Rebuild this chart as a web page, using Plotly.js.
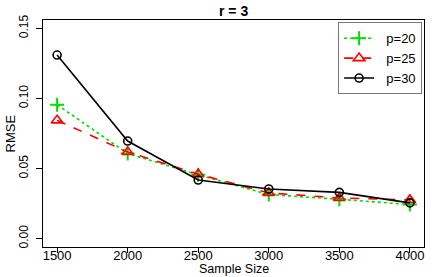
<!DOCTYPE html>
<html><head><meta charset="utf-8">
<script src="https://cdn.plot.ly/plotly-3.0.1.min.js"></script>
<style>html,body{margin:0;padding:0;background:#fff}#chart{width:436px;height:277px}</style>
</head><body><div id="chart"></div>
<script>
const sampleSize = [1500, 2000, 2500, 3000, 3500, 4000];
const rmseP20 = [0.0955, 0.0607, 0.0455, 0.0314, 0.0281, 0.0243];
const rmseP25 = [0.0844, 0.0618, 0.0460, 0.0326, 0.0290, 0.0276];
const rmseP30 = [0.1310, 0.0696, 0.0418, 0.0354, 0.0330, 0.0255];
const seriesNames = ['p=20', 'p=25', 'p=30'];
const yTicks = [0.00, 0.05, 0.10, 0.15];
const yTickText = ['0.00', '0.05', '0.10', '0.15'];

const pad = '\u00a0\u00a0';
const traces = [
  {x: sampleSize, y: rmseP20, name: pad + seriesNames[0], mode: 'lines+markers',
   line: {color: '#00dd00', width: 1.6, dash: 'dot'},
   marker: {symbol: 'cross-thin-open', size: 10, color: '#00dd00', line: {color: '#00dd00', width: 2}}},
  {x: sampleSize, y: rmseP25, name: pad + seriesNames[1], mode: 'lines+markers',
   line: {color: '#ff0000', width: 1.6, dash: 'dash'},
   marker: {symbol: 'triangle-up-open', size: 10, color: '#ff0000', line: {color: '#ff0000', width: 1.6}}},
  {x: sampleSize, y: rmseP30, name: pad + seriesNames[2], mode: 'lines+markers',
   line: {color: '#000000', width: 1.6},
   marker: {symbol: 'circle-open', size: 8, color: '#000000', line: {color: '#000000', width: 1.6}}}
];

const layout = {
  width: 436, height: 277,
  margin: {l: 43, r: 12, t: 20, b: 30},
  paper_bgcolor: '#fff', plot_bgcolor: '#fff',
  font: {family: 'Liberation Sans, Arial, sans-serif', color: '#000'},
  showlegend: true,
  legend: {x: 0.995, xanchor: 'right', y: 0.99, yanchor: 'top',
    bgcolor: '#fff', bordercolor: '#777', borderwidth: 1,
    font: {size: 13, color: '#000'}, tracegroupgap: 0, itemwidth: 30},
  xaxis: {range: [1400, 4100], tickvals: sampleSize, ticks: 'outside', ticklen: 5, tickwidth: 1,
    tickcolor: '#000', showgrid: false, zeroline: false, showline: true, linecolor: '#000', linewidth: 1,
    mirror: true, tickfont: {size: 13}, ticklabelstandoff: -9},
  yaxis: {range: [-0.006, 0.156], tickvals: yTicks, ticktext: yTickText, ticks: 'outside', ticklen: 6,
    tickwidth: 1, tickcolor: '#000', showgrid: false, zeroline: false, showline: true, linecolor: '#000',
    linewidth: 1, mirror: true, tickangle: -90, tickfont: {size: 12}, ticklabelstandoff: 3},
  annotations: [
    {text: '<b>r = 3</b>', xref: 'paper', yref: 'paper', x: 0.5, y: 1, yshift: 9, showarrow: false,
     font: {size: 14}, xanchor: 'center', yanchor: 'middle'},
    {text: 'Sample Size', xref: 'paper', yref: 'paper', x: 0.5, y: 0, yshift: -30, showarrow: false,
     font: {size: 12.5}, xanchor: 'center', yanchor: 'bottom', borderpad: 0},
    {text: 'RMSE', xref: 'paper', yref: 'paper', x: 0, xshift: -33, y: 0.5, showarrow: false,
     textangle: -90, font: {size: 13}, xanchor: 'center', yanchor: 'middle'}
  ]
};
Plotly.newPlot('chart', traces, layout, {displayModeBar: false, staticPlot: true});
</script></body></html>
